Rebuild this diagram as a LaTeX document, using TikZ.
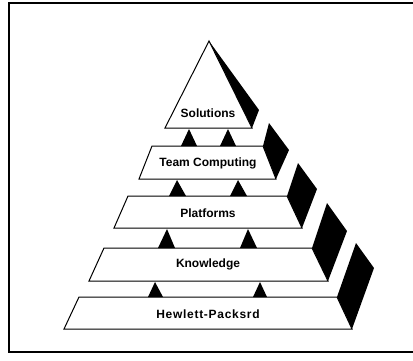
\documentclass[tikz,border=0pt]{standalone}
\usepackage{fontspec}
\setmainfont{Liberation Sans}
\newfontfamily\widesans[LetterSpace=6]{Liberation Sans}
\begin{document}
\begin{tikzpicture}[x=1pt,y=-1pt,
  band/.style={draw=black, line width=1pt, fill=white, line join=miter},
  shade/.style={fill=black},
  link/.style={fill=black},
  label/.style={font=\bfseries\fontsize{12}{14}\selectfont, inner sep=0pt},
  frame/.style={draw=black, line width=2.5pt}]
\useasboundingbox (0,0) rectangle (413,360);
% frame
\draw[frame] (413,3) -- (9,3) -- (9,352) -- (413,352);
% shadows
\fill[shade] (209,41) -- (259,110) -- (252,128) -- cycle;
\fill[shade] (263,146) -- (269,123) -- (289,150) -- (276,179) -- cycle;
\fill[shade] (287,196) -- (298,163) -- (317,189) -- (302,228) -- cycle;
\fill[shade] (312,248) -- (327,203) -- (347,231) -- (328,281) -- cycle;
\fill[shade] (337,297) -- (356,243) -- (374,268) -- (352,329) -- cycle;
% layers
\draw[band] (209,41) -- (252,128) -- (165,128) -- cycle;
\draw[band] (152,146) -- (263,146) -- (276,179) -- (139,179) -- cycle;
\draw[band] (128,196) -- (287,196) -- (302,228) -- (114,228) -- cycle;
\draw[band] (104,248) -- (312,248) -- (328,281) -- (89,281) -- cycle;
\draw[band] (79,297) -- (337,297) -- (352,329) -- (64,329) -- cycle;
% links
\fill[link] (189,129) -- (197,146) -- (181,146) -- cycle;
\fill[link] (228,129) -- (236,146) -- (220,146) -- cycle;
\fill[link] (177,180) -- (186,196) -- (169,196) -- cycle;
\fill[link] (238,180) -- (247,196) -- (230,196) -- cycle;
\fill[link] (167,229) -- (175,248) -- (158,248) -- cycle;
\fill[link] (248,229) -- (257,248) -- (240,248) -- cycle;
\fill[link] (155,282) -- (163,297) -- (148,297) -- cycle;
\fill[link] (260,282) -- (267,297) -- (253,297) -- cycle;
% labels
\node[label] (sol) at (208,113) {Solutions};
\node[label] (team) at (208,163) {Team Computing};
\node[label] (plat) at (208,213) {Platforms};
\node[label] (know) at (208,264) {Knowledge};
\node[label, font=\widesans\bfseries\fontsize{12}{14}\selectfont] (hp) at (208,314) {Hewlett-Packsrd};
\end{tikzpicture}
\end{document}
